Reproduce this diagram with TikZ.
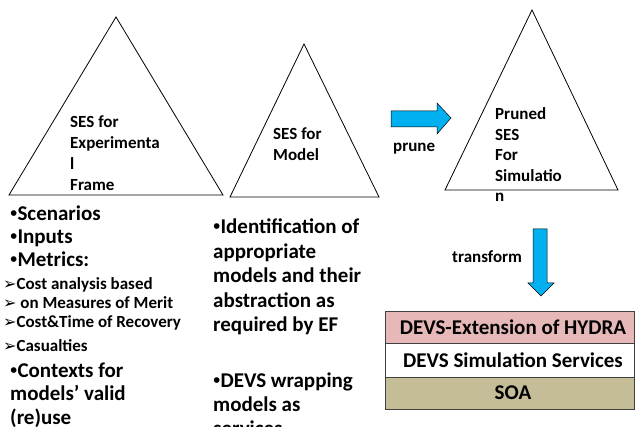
\documentclass[tikz,border=0pt]{standalone}
\usepackage{fontspec}
\setmainfont{Carlito}
\newfontfamily\symfont{DejaVu Sans}
\newfontfamily\bulfont{Liberation Sans}
\definecolor{arrowblue}{RGB}{0,176,240}
\definecolor{hydrapink}{RGB}{230,185,184}
\definecolor{soatan}{RGB}{196,189,151}
\tikzset{
  tri/.style={draw=black, line width=0.8pt, line join=miter},
  lbl/.style={font=\bfseries\fontsize{17}{21}\selectfont, inner sep=0pt, anchor=base west},
  big/.style={font=\bfseries\fontsize{21}{25}\selectfont, inner sep=0pt, anchor=base west},
  small/.style={font=\bfseries\fontsize{17}{19}\selectfont, inner sep=0pt, anchor=base west},
  blockarrow/.style={fill=arrowblue, draw=black, line width=0.5pt},
  layer/.style={draw=black!75, line width=0.8pt, minimum width=249pt, inner sep=0pt,
                font=\bfseries\fontsize{21}{25}\selectfont},
}
% bullet marks of the two list levels
\newcommand{\dotbul}{{\bulfont\mdseries •}}
\newcommand{\arrbul}{{\symfont\fontsize{16}{16}\selectfont\raisebox{0.5pt}{➢}}}
\begin{document}
\begin{tikzpicture}[x=1pt,y=-1pt]
\useasboundingbox (0,0) rectangle (635,427);
\clip (0,0) rectangle (635,427);

% the three entity structures
\draw[tri] (116,17) -- (223,195) -- (9,195) -- cycle;
\draw[tri] (304,44) -- (379,197) -- (230,197) -- cycle;
\draw[tri] (532,10) -- (618,190) -- (445,190) -- cycle;

% labels inside the triangles
\foreach \t [count=\i] in {{SES for},{Experimenta},{l},{Frame}}
  \node[lbl] (ef\i) at (70,{128+20.7*(\i-1)}) {\t};
\foreach \t [count=\i] in {{SES for},{Model}}
  \node[lbl] (md\i) at (273,{140+20.5*(\i-1)}) {\t};
\foreach \t [count=\i] in {{Pruned},{SES},{For},{Simulatio},{n}}
  \node[lbl] (ps\i) at (495,{120+20.5*(\i-1)}) {\t};

% prune arrow
\draw[blockarrow] (391,111) -- (437,111) -- (437,103) -- (451,118)
  -- (437,134) -- (437,127) -- (391,127) -- cycle;
\node[lbl] (prune) at (393,152) {prune};

% transform arrow
\draw[blockarrow] (533,229) -- (547,229) -- (547,283) -- (554,283)
  -- (541,296) -- (528,283) -- (533,283) -- cycle;
\node[lbl] (transform) at (452,263) {transform};

% layered architecture
\node[layer, fill=hydrapink, minimum height=32pt] (hydra) at (509.5,327) {\hspace*{7pt}DEVS-Extension of HYDRA};
\node[layer, fill=white, minimum height=34pt] (sim) at (509.5,360) {\hspace*{7pt}DEVS Simulation Services};
\node[layer, fill=soatan, minimum height=32pt] (soa) at (509.5,393) {\hspace*{7pt}SOA};

% experimental frame contents
\node[big] (l1) at (10,221) {\dotbul Scenarios};
\node[big] (l2) at (10,244) {\dotbul Inputs};
\node[big] (l3) at (10,267) {\dotbul Metrics:};
\node[small] (l4) at (3,290) {\arrbul Cost analysis based};
\node[small] (l5) at (3,309) {\arrbul\ on Measures of Merit};
\node[small] (l6) at (3,328) {\arrbul Cost\&Time of Recovery};
\node[small] (l7) at (3,352) {\arrbul Casualties};
\node[big] (l8) at (10,378) {\dotbul Contexts for};
\node[big] (l9) at (10,401) {models’ valid};
\node[big] (l10) at (10,425) {(re)use};

% model contents
\foreach \t [count=\i] in {{\dotbul Identification of},{appropriate},{models and their},{abstraction as},{required by EF}}
  \node[big] (m\i) at (213,{234+24.5*(\i-1)}) {\t};
\foreach \t [count=\i] in {{\dotbul DEVS wrapping},{models as},{services}}
  \node[big] (w\i) at (213,{388+24*(\i-1)}) {\t};
\end{tikzpicture}
\end{document}
